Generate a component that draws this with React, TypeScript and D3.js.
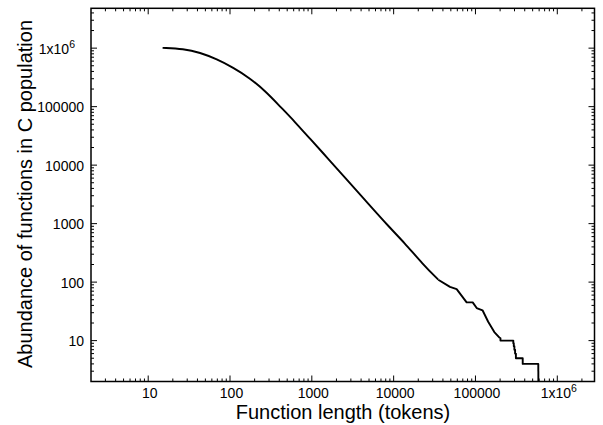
import * as d3 from "d3";

// smooth part of the curve (function length in tokens, number of functions)
const headLength = [15, 27, 43, 69, 109, 175, 280, 407, 621, 948, 1585, 2541, 4250, 9020, 13100, 23000, 35100];
const headCount = [1010000, 973000, 841000, 649000, 467000, 308000, 176000, 101400, 55100, 28300, 12900, 6080, 2740, 841, 497, 199, 110];

// noisy middle of the tail
const midLength = [35100, 48800, 58900, 78000, 92500, 103500, 122000, 143000, 170000, 199000];
const midCount = [110, 83, 76, 45, 45, 36, 33, 21, 14, 11];

// stepped end, where counts are small integers
const tailLength = [199000, 202000, 290000, 294000, 299000, 305000, 312000, 378000, 586000, 587000, 588000];
const tailCount = [11, 10, 9, 8, 7, 6, 5, 4, 3, 2, 1];

const decadeValues = [10, 100, 1000, 10000, 100000, 1000000];
const decadeLabels = ["10", "100", "1000", "10000", "100000", "1x10^6"];

const W = 603;
const H = 425;
const left = 91;
const right = 594.5;
const top = 8.3;
const bottom = 381.5;

const x = d3.scaleLog().domain([2, 2.85e6]).range([left, right]);
const y = d3.scaleLog().domain([2, 4.8e6]).range([bottom, top]);

function minorTicks(domain: number[]) {
  const out: number[] = [];
  for (let d = 0; d <= 6; d++) {
    for (let m = 2; m <= 9; m++) {
      const v = m * Math.pow(10, d);
      if (v > domain[0] && v < domain[1]) out.push(v);
    }
  }
  return out;
}

const font = "'Liberation Sans', Arial, Helvetica, sans-serif";

function Label({ text, ...rest }: any) {
  if (text.includes("^")) {
    const [base, sup] = text.split("^");
    return (
      <text {...rest}>
        {base}
        <tspan fontSize={10.5} dy={-6}>{sup}</tspan>
      </text>
    );
  }
  return <text {...rest}>{text}</text>;
}

type Pt = [number, number];

export default function App() {
  const head = headLength.map((l, i) => [l, headCount[i]] as Pt);
  const mid = midLength.map((l, i) => [l, midCount[i]] as Pt);
  const tail = tailLength.map((l, i) => [l, tailCount[i]] as Pt);

  const line = (curve: d3.CurveFactory) =>
    d3
      .line<Pt>()
      .x((d) => x(d[0]))
      .y((d) => y(d[1]))
      .curve(curve);

  const xMinor = minorTicks(x.domain());
  const yMinor = minorTicks(y.domain());

  return (
    <svg
      width={W}
      height={H}
      style={{ position: "absolute", left: 0, top: 0, background: "#fff" }}
      fontFamily={font}
    >
      <defs>
        <clipPath id="plotClip">
          <rect x={left} y={top} width={right - left} height={bottom - top} />
        </clipPath>
      </defs>

      {/* ticks, mirrored on all four sides */}
      <g stroke="#000" strokeWidth={1}>
        {decadeValues.map((v) => (
          <g key={"xM" + v}>
            <line x1={x(v)} x2={x(v)} y1={bottom} y2={bottom - 6} />
            <line x1={x(v)} x2={x(v)} y1={top} y2={top + 6} />
          </g>
        ))}
        {xMinor.map((v) => (
          <g key={"xm" + v}>
            <line x1={x(v)} x2={x(v)} y1={bottom} y2={bottom - 3} />
            <line x1={x(v)} x2={x(v)} y1={top} y2={top + 3} />
          </g>
        ))}
        {decadeValues.map((v) => (
          <g key={"yM" + v}>
            <line x1={left} x2={left + 6} y1={y(v)} y2={y(v)} />
            <line x1={right} x2={right - 6} y1={y(v)} y2={y(v)} />
          </g>
        ))}
        {yMinor.map((v) => (
          <g key={"ym" + v}>
            <line x1={left} x2={left + 3} y1={y(v)} y2={y(v)} />
            <line x1={right} x2={right - 3} y1={y(v)} y2={y(v)} />
          </g>
        ))}
      </g>

      {/* curve */}
      <g clipPath="url(#plotClip)" fill="none" stroke="#000" strokeWidth={1.9} strokeLinejoin="round">
        <path d={line(d3.curveBasis)(head) || ""} />
        <path d={line(d3.curveLinear)(mid) || ""} />
        <path d={line(d3.curveStepAfter)(tail) || ""} />
      </g>

      {/* frame */}
      <rect x={left} y={top} width={right - left} height={bottom - top} fill="none" stroke="#000" strokeWidth={1.5} />

      {/* tick labels */}
      <g fontSize={14} fill="#000">
        {decadeValues.map((v, i) => (
          <Label key={"xl" + v} text={decadeLabels[i]} x={x(v) + 1.5} y={397.5} textAnchor="middle" />
        ))}
        {decadeValues.map((v, i) => (
          <Label
            key={"yl" + v}
            text={decadeLabels[i]}
            x={decadeLabels[i].includes("^") ? 75 : 84}
            y={y(v) + 5.5}
            textAnchor="end"
          />
        ))}
      </g>

      {/* axis titles */}
      <text x={343} y={418.5} fontSize={20} textAnchor="middle">
        Function length (tokens)
      </text>
      <text transform="translate(32,194) rotate(-90)" fontSize={20} textAnchor="middle">
        Abundance of functions in C population
      </text>
    </svg>
  );
}
